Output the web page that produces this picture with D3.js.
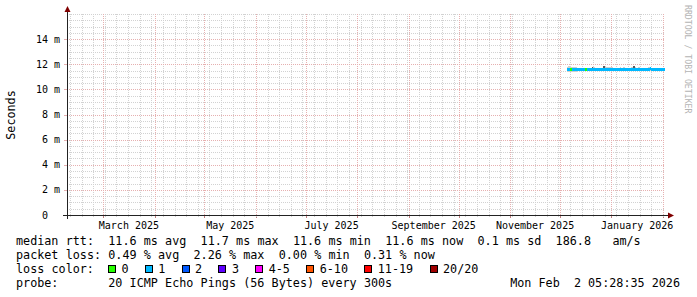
<!DOCTYPE html>
<html>
<head>
<meta charset="utf-8">
<script src="https://cdn.jsdelivr.net/npm/d3@7"></script>
<style>
body { margin: 0; background: #fff; }
svg { display: block; }
text { font-family: "DejaVu Sans Mono", monospace; }
</style>
</head>
<body>
<div id="chart"></div>
<script>
// Data: one value per day, starting at dataStart
var graphEnd = "2026-02-02T05:28:35Z";
var graphDays = 360;
var dataStart = "2025-12-05T00:00:00Z";

var medianMs = [11.60, 11.60, 11.59, 11.60, 11.61, 11.60, 11.59, 11.60, 11.60, 11.61,
                11.60, 11.60, 11.59, 11.60, 11.60, 11.61, 11.60, 11.59, 11.60, 11.60,
                11.61, 11.60, 11.60, 11.59, 11.60, 11.61, 11.60, 11.60, 11.59, 11.60,
                11.60, 11.61, 11.60, 11.60, 11.59, 11.60, 11.60, 11.61, 11.60, 11.60,
                11.59, 11.60, 11.60, 11.61, 11.60, 11.60, 11.59, 11.60, 11.60, 11.61,
                11.68, 11.60, 11.59, 11.60, 11.60, 11.61, 11.60, 11.60, 11.59, 11.60];

var lossCount = [1, 1, 0, 1, 1, 1, 1, 1, 1, 1,
                 1, 0, 1, 1, 1, 1, 1, 1, 1, 1,
                 1, 1, 1, 1, 1, 1, 1, 1, 1, 1,
                 1, 1, 1, 1, 1, 1, 1, 1, 1, 1,
                 1, 1, 1, 1, 1, 1, 1, 1, 1, 1,
                 1, 1, 1, 1, 1, 1, 1, 1, 1, 1];

// smoke: outer (light) top and bottom, inner (dark) top
var smokeHi = [11.82, 11.84, 11.80, 11.82, 11.80, 11.78, 11.70, 11.70, 11.70, 11.70,
               11.70, 11.70, 11.72, 11.70, 11.70, 11.74, 11.76, 11.70, 11.70, 11.70,
               11.70, 11.72, 11.88, 11.82, 11.78, 11.80, 11.76, 11.80, 11.74, 11.70,
               11.70, 11.70, 11.76, 11.70, 11.78, 11.70, 11.70, 11.70, 11.70, 11.76,
               11.88, 11.80, 11.70, 11.78, 11.74, 11.70, 11.70, 11.70, 11.70, 11.78,
               11.70, 11.72, 11.70, 11.70, 11.70, 11.70, 11.74, 11.70, 11.70, 11.70];
var smokeLo = [11.40, 11.40, 11.42, 11.40, 11.42, 11.42, 11.45, 11.45, 11.45, 11.45,
               11.45, 11.45, 11.45, 11.45, 11.45, 11.45, 11.45, 11.45, 11.45, 11.45,
               11.45, 11.45, 11.45, 11.45, 11.45, 11.45, 11.45, 11.45, 11.45, 11.45,
               11.45, 11.45, 11.45, 11.45, 11.45, 11.45, 11.45, 11.45, 11.45, 11.45,
               11.45, 11.45, 11.45, 11.45, 11.45, 11.45, 11.45, 11.45, 11.45, 11.45,
               11.45, 11.45, 11.45, 11.45, 11.45, 11.45, 11.45, 11.45, 11.45, 11.45];
var smokeDark = [11.64, 11.64, 11.64, 11.64, 11.64, 11.64, 11.64, 11.64, 11.64, 11.64,
                 11.64, 11.64, 11.64, 11.64, 11.64, 11.76, 11.64, 11.64, 11.64, 11.64,
                 11.64, 11.64, 11.86, 11.64, 11.64, 11.64, 11.64, 11.64, 11.64, 11.64,
                 11.64, 11.64, 11.64, 11.64, 11.64, 11.64, 11.64, 11.64, 11.64, 11.64,
                 11.86, 11.64, 11.64, 11.64, 11.64, 11.64, 11.64, 11.64, 11.64, 11.64,
                 11.64, 11.64, 11.64, 11.64, 11.64, 11.64, 11.64, 11.64, 11.64, 11.64];

var yTicks = [0, 2, 4, 6, 8, 10, 12, 14];
var yTickLabels = ["0  ", "2 m", "4 m", "6 m", "8 m", "10 m", "12 m", "14 m"];
var monthLabelStarts = ["2025-03-01", "2025-05-01", "2025-07-01", "2025-09-01", "2025-11-01", "2026-01-01"];
var monthLabels = ["March 2025", "May 2025", "July 2025", "September 2025", "November 2025", "January 2026"];

var lossBins = ["0", "1", "2", "3", "4-5", "6-10", "11-19", "20/20"];
var lossUpper = [0, 1, 2, 3, 5, 10, 19, 20];
var lossColors = ["#26ff00", "#00b8ff", "#0059ff", "#5e00ff", "#ff00ff", "#ff5500", "#ff0000", "#a00000"];

var legendLines = [
    "median rtt:  11.6 ms avg  11.7 ms max  11.6 ms min  11.6 ms now  0.1 ms sd  186.8   am/s",
    "packet loss: 0.49 % avg  2.26 % max  0.00 % min  0.31 % now",
    "loss color:",
    "probe:       20 ICMP Echo Pings (56 Bytes) every 300s"
];
var stampText = "Mon Feb  2 05:28:35 2026";

var width = 697,
    height = 297,
    plotLeft = 67,
    plotRight = 665,
    plotTop = 14,
    plotBottom = 215;

var gridColor = "#d2d2d2",
    mgridColor = "#e6b0b0",
    axisColor = "#222",
    arrowColor = "#800000";

var charW = 7.1;   // advance of the legend font

var endDate = new Date(graphEnd);
var startDate = d3.utcDay.offset(endDate, -graphDays);

var x = d3.scaleUtc().domain([startDate, endDate]).range([plotLeft, plotRight]);
var y = d3.scaleLinear().domain([0, 16]).range([plotBottom, plotTop]);

function px(v) { return Math.round(v) + 0.5; }

var svg = d3.select("#chart").append("svg")
    .attr("width", width)
    .attr("height", height);

svg.append("rect").attr("width", width).attr("height", height).attr("fill", "#fff");

// Grid
var grid = svg.append("g").attr("shape-rendering", "crispEdges").attr("stroke-dasharray", "1,1");

var weeks = d3.utcSunday.range(startDate, endDate);
var months = d3.utcMonth.range(startDate, endDate);
var monthKeys = months.map(d => +d);

grid.selectAll(".vminor")
    .data(weeks.filter(d => monthKeys.indexOf(+d) < 0))
    .enter().append("line")
    .attr("x1", d => px(x(d))).attr("x2", d => px(x(d)))
    .attr("y1", plotTop).attr("y2", plotBottom)
    .attr("stroke", gridColor);

var hMinor = d3.range(1, 33).map(k => k / 2).filter(v => yTicks.indexOf(v) < 0);
grid.selectAll(".hminor")
    .data(hMinor)
    .enter().append("line")
    .attr("x1", plotLeft).attr("x2", plotRight)
    .attr("y1", d => px(y(d))).attr("y2", d => px(y(d)))
    .attr("stroke", gridColor);

grid.selectAll(".vmajor")
    .data(months)
    .enter().append("line")
    .attr("x1", d => px(x(d))).attr("x2", d => px(x(d)))
    .attr("y1", plotTop).attr("y2", plotBottom)
    .attr("stroke", mgridColor);

grid.selectAll(".hmajor")
    .data(yTicks.slice(1))
    .enter().append("line")
    .attr("x1", plotLeft).attr("x2", plotRight)
    .attr("y1", d => px(y(d))).attr("y2", d => px(y(d)))
    .attr("stroke", mgridColor);

// small ticks at the axes
var ticks = svg.append("g").attr("shape-rendering", "crispEdges");
ticks.selectAll(".tmaj")
    .data(months)
    .enter().append("line")
    .attr("x1", d => px(x(d))).attr("x2", d => px(x(d)))
    .attr("y1", plotBottom).attr("y2", plotBottom + 3)
    .attr("stroke", "#c08080");
ticks.selectAll(".tmin")
    .data(weeks)
    .enter().append("line")
    .attr("x1", d => px(x(d))).attr("x2", d => px(x(d)))
    .attr("y1", plotBottom).attr("y2", plotBottom + 2)
    .attr("stroke", gridColor);
ticks.selectAll(".tleft")
    .data(yTicks)
    .enter().append("line")
    .attr("x1", plotLeft - 3).attr("x2", plotLeft)
    .attr("y1", d => px(y(d))).attr("y2", d => px(y(d)))
    .attr("stroke", mgridColor);

// Data: smoke and median colored by loss
var days = medianMs.map(function(m, i) {
    var t0 = d3.utcDay.offset(new Date(dataStart), i);
    var t1 = d3.utcDay.offset(t0, 1);
    if (t1 > endDate) t1 = endDate;
    return {t0: t0, t1: t1, median: m, loss: lossCount[i],
            hi: smokeHi[i], lo: smokeLo[i], dark: smokeDark[i]};
});

function lossColor(n) {
    for (var i = 0; i < lossUpper.length; i++) {
        if (n <= lossUpper[i]) return lossColors[i];
    }
    return lossColors[lossColors.length - 1];
}

var plot = svg.append("g").attr("shape-rendering", "crispEdges");

plot.selectAll(".smoke")
    .data(days)
    .enter().append("rect")
    .attr("x", d => x(d.t0))
    .attr("width", d => x(d.t1) - x(d.t0))
    .attr("y", d => y(d.hi))
    .attr("height", d => y(d.lo) - y(d.hi))
    .attr("fill", "#cfcfcf");

plot.selectAll(".smokedark")
    .data(days)
    .enter().append("rect")
    .attr("x", d => x(d.t0))
    .attr("width", d => x(d.t1) - x(d.t0))
    .attr("y", d => y(d.dark))
    .attr("height", d => Math.max(0, y(d.median) - y(d.dark)))
    .attr("fill", "#5a5a5a");

plot.selectAll(".median")
    .data(days)
    .enter().append("rect")
    .attr("x", d => x(d.t0))
    .attr("width", d => x(d.t1) - x(d.t0))
    .attr("y", d => y(d.median) - 1.5)
    .attr("height", 3)
    .attr("fill", d => lossColor(d.loss));

// Axes with arrows
var axes = svg.append("g").attr("shape-rendering", "crispEdges");
axes.append("line")
    .attr("x1", plotLeft - 4).attr("x2", plotRight + 4)
    .attr("y1", plotBottom + 0.5).attr("y2", plotBottom + 0.5)
    .attr("stroke", axisColor);
axes.append("line")
    .attr("x1", plotLeft + 0.5).attr("x2", plotLeft + 0.5)
    .attr("y1", plotBottom + 4).attr("y2", plotTop - 3)
    .attr("stroke", axisColor);

svg.append("path")
    .attr("d", "M" + (plotRight + 3) + "," + (plotBottom - 2.5) + "L" + (plotRight + 9) + "," + (plotBottom + 0.5) +
               "L" + (plotRight + 3) + "," + (plotBottom + 3.5) + "Z")
    .attr("fill", arrowColor);
svg.append("path")
    .attr("d", "M" + (plotLeft - 2.5) + "," + (plotTop - 2) + "L" + (plotLeft + 0.5) + "," + (plotTop - 8) +
               "L" + (plotLeft + 3.5) + "," + (plotTop - 2) + "Z")
    .attr("fill", arrowColor);

// Axis labels
svg.selectAll(".ylab")
    .data(yTicks)
    .enter().append("text")
    .attr("x", 60)
    .attr("y", d => y(d) + 3.5)
    .attr("text-anchor", "end")
    .style("font-size", "10px")
    .style("white-space", "pre")
    .text((d, i) => yTickLabels[i]);

svg.selectAll(".xlab")
    .data(monthLabelStarts)
    .enter().append("text")
    .attr("x", function(d) {
        var m0 = new Date(d + "T00:00:00Z");
        var m1 = d3.utcMonth.offset(m0, 1);
        return (x(m0) + x(m1)) / 2;
    })
    .attr("y", 228.5)
    .attr("text-anchor", "middle")
    .style("font-size", "10px")
    .text((d, i) => monthLabels[i]);

svg.append("text")
    .attr("transform", "translate(14.5,115) rotate(-90)")
    .attr("text-anchor", "middle")
    .style("font-size", "11.75px")
    .text("Seconds");

svg.append("text")
    .attr("transform", "translate(685,5) rotate(90)")
    .attr("text-anchor", "start")
    .style("font-size", "8.2px")
    .attr("fill", "#b4b4b4")
    .text("RRDTOOL / TOBI OETIKER");

// Legend: split each line into words and place them on a fixed character grid
function tokens(line) {
    var out = [];
    var re = /\S+/g, m;
    while ((m = re.exec(line)) !== null) {
        out.push({word: m[0], col: m.index});
    }
    return out;
}

var legend = svg.append("g").style("font-size", "11.75px");
legendLines.forEach(function(line, i) {
    legend.selectAll(".row" + i)
        .data(tokens(line))
        .enter().append("text")
        .attr("x", d => 16 + d.col * charW)
        .attr("y", 245 + i * 14)
        .text(d => d.word);
});

legend.append("text")
    .attr("x", 680)
    .attr("y", 245 + 3 * 14)
    .attr("text-anchor", "end")
    .style("white-space", "pre")
    .text(stampText);

// loss color swatches
var cursor = 16 + 13 * charW - 0.3;
lossBins.forEach(function(label, i) {
    legend.append("rect")
        .attr("x", Math.round(cursor) + 0.5)
        .attr("y", 265.5)
        .attr("width", 7)
        .attr("height", 7)
        .attr("fill", lossColors[i])
        .attr("stroke", "#000")
        .attr("shape-rendering", "crispEdges");
    legend.append("text")
        .attr("x", cursor + 13.5)
        .attr("y", 245 + 2 * 14)
        .text(label);
    cursor += 13.5 + label.length * charW + 16.2;
});
</script>
</body>
</html>
